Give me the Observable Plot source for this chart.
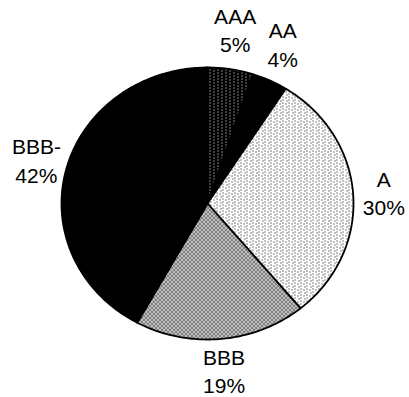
<!DOCTYPE html>
<html>
<head>
<meta charset="utf-8">
<script src="https://cdn.jsdelivr.net/npm/d3@7"></script>
<script src="https://cdn.jsdelivr.net/npm/@observablehq/plot@0.6"></script>
<style>
  html, body { margin: 0; padding: 0; background: #fff; }
</style>
</head>
<body>
<div id="chart"></div>
<script>
// Data
const categories = ["AAA", "AA", "A", "BBB", "BBB-"];
const values = [5, 4, 30, 19, 42];
const labels = ["AAA\n5%", "AA\n4%", "A\n30%", "BBB\n19%", "BBB-\n42%"];
const fills = ["url(#pAAA)", "#000", "url(#pA)", "url(#pBBB)", "#000"];

// Geometry from data
const arcs = d3.pie().sort(null).value(d => d.v)(
  categories.map((c, i) => ({c, v: values[i], f: fills[i], l: labels[i]}))
);
const poly = [];
arcs.forEach(a => {
  const n = Math.max(4, Math.ceil((a.endAngle - a.startAngle) * 60));
  poly.push({c: a.data.c, f: a.data.f, x: 0, y: 0});
  for (let k = 0; k <= n; k++) {
    const t = a.startAngle + (a.endAngle - a.startAngle) * k / n;
    poly.push({c: a.data.c, f: a.data.f, x: Math.sin(t), y: -Math.cos(t)});
  }
  poly.push({c: a.data.c, f: a.data.f, x: 0, y: 0});
});
const lab = arcs.map(a => {
  const m = (a.startAngle + a.endAngle) / 2;
  const c = Math.cos(m);
  return {l: a.data.l, x: 1.21 * Math.sin(m), y: -(c > 0 ? 1.3 : 1.23) * c};
});

const svg = Plot.plot({
  width: 409,
  height: 397,
  margin: 0,
  x: {domain: [-1, 1], range: [61, 353], axis: null},
  y: {domain: [-1, 1], range: [67, 339], axis: null},
  color: {type: "identity"},
  marks: [
    Plot.line(poly, {x: "x", y: "y", z: "c", fill: "f", stroke: "#000", strokeWidth: 1.8, strokeLinejoin: "round", curve: "linear"}),
    Plot.text(lab, {x: "x", y: "y", text: "l", fontSize: 21, lineHeight: 1.34, fill: "#000",
      fontFamily: "Liberation Sans, Arial, sans-serif"})
  ]
});

// Dot-screen textures for the scanned look
const defs = d3.select(svg).insert("defs", ":first-child");
const pAAA = defs.append("pattern").attr("id", "pAAA").attr("patternUnits", "userSpaceOnUse")
  .attr("width", 8).attr("height", 3);
pAAA.append("rect").attr("width", 8).attr("height", 3).attr("fill", "#000");
pAAA.append("rect").attr("x", 1).attr("y", 0).attr("width", 1).attr("height", 1).attr("fill", "#fff");
pAAA.append("rect").attr("x", 5).attr("y", 1).attr("width", 1).attr("height", 1).attr("fill", "#fff");

const pA = defs.append("pattern").attr("id", "pA").attr("patternUnits", "userSpaceOnUse")
  .attr("width", 6).attr("height", 6);
pA.append("rect").attr("width", 6).attr("height", 6).attr("fill", "#fff");
[[0,0],[0,3],[3,1],[4,4]].forEach(([x, y]) =>
  pA.append("rect").attr("x", x).attr("y", y).attr("width", 1).attr("height", 1).attr("fill", "#000"));

const pBBB = defs.append("pattern").attr("id", "pBBB").attr("patternUnits", "userSpaceOnUse")
  .attr("width", 4).attr("height", 4);
pBBB.append("rect").attr("width", 4).attr("height", 4).attr("fill", "#fff");
[[0,0],[2,0],[0,2],[2,2],[1,1],[3,3]].forEach(([x, y]) =>
  pBBB.append("rect").attr("x", x).attr("y", y).attr("width", 1).attr("height", 1).attr("fill", "#000"));

document.getElementById("chart").appendChild(svg);
</script>
</body>
</html>
